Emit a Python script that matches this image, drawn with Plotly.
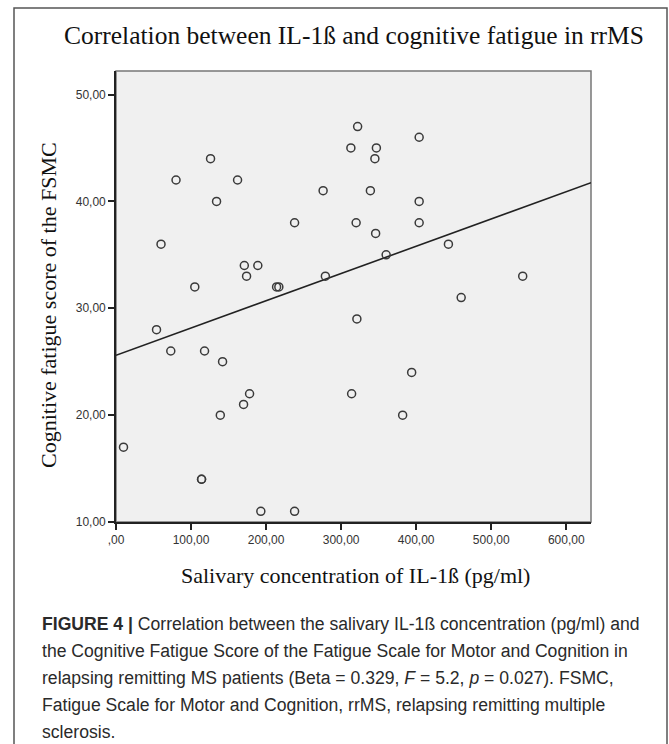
import plotly.graph_objects as go

# ---- data ----
il1b = [126, 80, 162, 134, 60, 238, 276, 313, 322, 320, 171, 189, 174, 105, 214, 217, 279,
        347, 345, 404, 339, 404, 404, 346, 443, 360, 542, 460, 321, 54, 73, 118, 142, 178,
        170, 139, 314, 10, 114, 114, 193, 238, 394, 382]
fsmc = [44, 42, 42, 40, 36, 38, 41, 45, 47, 38, 34, 34, 33, 32, 32, 32, 33,
        45, 44, 46, 41, 40, 38, 37, 36, 35, 33, 31, 29, 28, 26, 26, 25, 22,
        21, 20, 22, 17, 14, 14, 11, 11, 24, 20]
fit_intercept = 25.6
fit_slope = 0.0255
x_range = [0, 633]
y_range = [10, 52.2]
x_ticks = [0, 100, 200, 300, 400, 500, 600]
x_ticktext = [",00", "100,00", "200,00", "300,00", "400,00", "500,00", "600,00"]
y_ticks = [10, 20, 30, 40, 50]
y_ticktext = ["10,00", "20,00", "30,00", "40,00", "50,00"]

title = "Correlation between IL-1ß and cognitive fatigue in rrMS"
x_title = "Salivary concentration of IL-1ß (pg/ml)"
y_title = "Cognitive fatigue score of the FSMC"
caption_lines = [
    "<b>FIGURE 4 |</b> Correlation between the salivary IL-1ß concentration (pg/ml) and",
    "the Cognitive Fatigue Score of the Fatigue Scale for Motor and Cognition in",
    "relapsing remitting MS patients (Beta = 0.329, <i>F</i> = 5.2, <i>p</i> = 0.027). FSMC,",
    "Fatigue Scale for Motor and Cognition, rrMS, relapsing remitting multiple",
    "sclerosis.",
]

# ---- layout geometry (pixels) ----
W, H = 669, 744
PL, PR, PT, PB = 116, 591, 71, 522


def px(xp):
    return (xp - PL) / (PR - PL)


def py(yp):
    return (PB - yp) / (PB - PT)


serif = "Liberation Serif, Times New Roman, serif"
sans = "Liberation Sans, Arial, sans-serif"

fit_x = [x_range[0], x_range[1]]
fit_y = [fit_intercept + fit_slope * v for v in fit_x]

fig = go.Figure()
fig.add_trace(go.Scatter(x=fit_x, y=fit_y, mode="lines",
                         line=dict(color="#222222", width=1.6),
                         hoverinfo="skip", showlegend=False))
fig.add_trace(go.Scatter(x=il1b, y=fsmc, mode="markers",
                         marker=dict(symbol="circle-open", size=8,
                                     line=dict(color="#3a3a3a", width=1.5),
                                     color="#3a3a3a"),
                         showlegend=False))

shapes = [
    # outer figure frame
    dict(type="rect", xref="paper", yref="paper",
         x0=px(14), x1=px(667), y0=py(770), y1=py(8),
         line=dict(color="#555555", width=1.5), fillcolor="rgba(0,0,0,0)", layer="below"),
    # plot frame (top/right grey)
    dict(type="rect", xref="paper", yref="paper", x0=0, x1=1, y0=0, y1=1,
         line=dict(color="#777777", width=1.5), fillcolor="rgba(0,0,0,0)", layer="below"),
]

annotations = [
    dict(text=title, x=px(353.5), y=py(36), xref="paper", yref="paper",
         xanchor="center", yanchor="middle", showarrow=False,
         font=dict(family=serif, size=25.5, color="#111111")),
    dict(text=x_title, x=px(355.5), y=py(575), xref="paper", yref="paper",
         xanchor="center", yanchor="middle", showarrow=False,
         font=dict(family=serif, size=22, color="#111111")),
    dict(text=y_title, x=px(48), y=py(305), xref="paper", yref="paper",
         xanchor="center", yanchor="middle", showarrow=False, textangle=-90,
         font=dict(family=serif, size=22, color="#111111")),
]
cap_y = [624, 651, 678, 705, 732]
for line, yy in zip(caption_lines, cap_y):
    annotations.append(dict(text=line, x=px(40), y=py(yy), xref="paper", yref="paper",
                            xanchor="left", yanchor="middle", showarrow=False,
                            font=dict(family=sans, size=17.6, color="#2a2a2a")))

fig.update_layout(
    width=W, height=H, autosize=False,
    margin=dict(l=PL, r=W - PR, t=PT, b=H - PB, pad=0),
    paper_bgcolor="white", plot_bgcolor="#f0f0f0",
    shapes=shapes, annotations=annotations,
    xaxis=dict(range=x_range, tickvals=x_ticks, ticktext=x_ticktext,
               showgrid=False, zeroline=False, showline=True,
               linecolor="#222222", linewidth=1.6,
               ticks="outside", ticklen=6, tickwidth=1.5, tickcolor="#222222",
               tickfont=dict(family=sans, size=12, color="#333333")),
    yaxis=dict(range=y_range, tickvals=y_ticks, ticktext=y_ticktext,
               showgrid=False, zeroline=False, showline=True,
               linecolor="#222222", linewidth=1.6,
               ticks="outside", ticklen=6, tickwidth=1.5, tickcolor="#222222",
               tickfont=dict(family=sans, size=12, color="#333333")),
)

fig.write_html("out.html", config={"displayModeBar": False},
               post_script="document.body.style.margin='0';document.body.style.overflow='hidden';")
